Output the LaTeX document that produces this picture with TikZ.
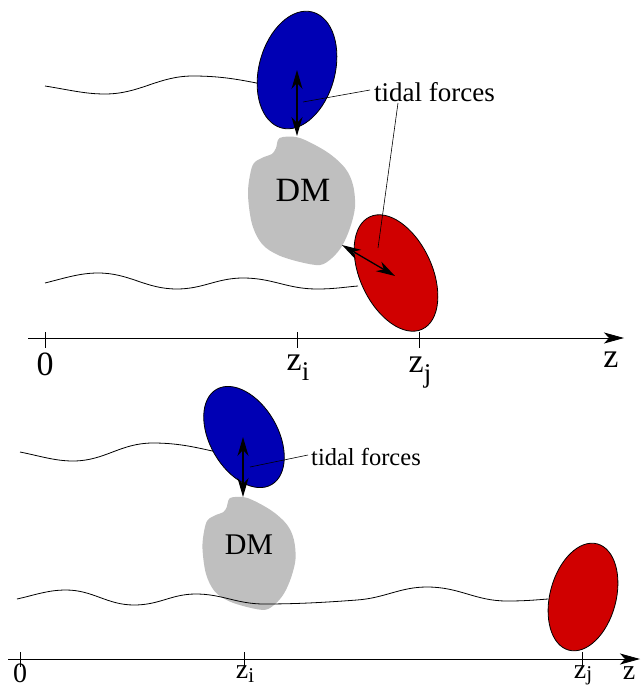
\documentclass[tikz,border=0pt]{standalone}
\usepackage{fontspec}
\setmainfont{Liberation Serif}
\usetikzlibrary{arrows.meta,shapes.geometric}
\definecolor{galblue}{RGB}{0,0,180}
\definecolor{galred}{RGB}{208,0,0}
\definecolor{dmgray}{RGB}{191,191,191}
\tikzset{
  galaxy/.style={ellipse, draw=black, line width=0.8pt, inner sep=0pt},
  wave/.style={line width=0.8pt},
  lead/.style={line width=0.6pt},
  dbl/.style={{Stealth[length=19pt,width=11pt,inset=6pt]}-{Stealth[length=19pt,width=11pt,inset=6pt]}, line width=1.3pt},
  axis/.style={line width=0.8pt, -{Stealth[length=20pt,width=11pt,inset=5pt]}},
  tick/.style={line width=0.8pt},
  lab/.style={inner sep=0pt, anchor=base},
  dmblob/.pic={\fill[dmgray] plot[smooth cycle, tension=0.55] coordinates{
    (-18.5,-64) (-1.5,-63) (25.5,-49) (43.5,-33) (51.5,-16) (53.5,6) (48.5,27)
    (40.5,45) (30.5,57) (18.5,64) (-1.5,61) (-23.5,54) (-39.5,43) (-49.5,23)
    (-53.5,-6) (-51.5,-26) (-47.5,-38) (-37.5,-44) (-29.5,-47) (-25.5,-53) (-23.5,-61)};}
}
\newcommand\zsub[3]{z\raisebox{#3}{\fontsize{#2}{#2}\selectfont #1}}
\begin{document}
\begin{tikzpicture}[x=1pt,y=-1pt]
\useasboundingbox (0,0) rectangle (640,687);
% ---------- top panel ----------
\pic at (301.5,201) {dmblob};
\node[font=\fontsize{34}{40}\selectfont] (dmA) at (303,190) {DM};
\draw[wave] (45,86) .. controls (70,90) and (85,94) .. (105,94)
  .. controls (140,94) and (158,76) .. (193,76)
  .. controls (225,76) and (245,81) .. (262,84);
\draw[wave] (45,283) .. controls (65,278) and (80,273) .. (98,273)
  .. controls (130,273) and (145,289) .. (177,289)
  .. controls (203,289) and (217,278) .. (243,278)
  .. controls (273,278) and (287,289) .. (317,289)
  .. controls (335,289) and (345,287) .. (358,286);
\node[galaxy, fill=galblue, minimum width=76pt, minimum height=120pt, rotate=-15] (blueA) at (297,70) {};
\node[galaxy, fill=galred, minimum width=72pt, minimum height=124pt, rotate=25] (redA) at (396,273) {};
\coordinate (bA1) at (297,70);
\coordinate (bA2) at (297,136);
\draw[dbl] (bA1) -- (bA2);
\coordinate (rA1) at (342,245);
\coordinate (rA2) at (395,276);
\draw[dbl] (rA1) -- (rA2);
\node[font=\fontsize{27}{32}\selectfont, inner sep=0pt] (tfA) at (434.5,92) {tidal forces};
\coordinate (lA1) at (303,102);
\coordinate (lA2) at (370,90);
\draw[lead] (lA1) -- (lA2);
\coordinate (lA3) at (398,103);
\coordinate (lA4) at (378,248);
\draw[lead] (lA3) -- (lA4);
% axis top
\coordinate (axA0) at (28,338);
\coordinate (axA1) at (624,338);
\draw[axis] (axA0) -- (axA1);
\foreach \xx/\nm in {45/tA0,297/tAi,419/tAj}{
  \coordinate (\nm a) at (\xx,332); \coordinate (\nm b) at (\xx,348);
  \draw[tick] (\nm a) -- (\nm b);}
\node[font=\fontsize{34}{40}\selectfont, lab] (lab0A) at (45,375) {0};
\node[font=\fontsize{34}{40}\selectfont, lab] (labiA) at (298,370) {\zsub{i}{27}{-0.32em}};
\node[font=\fontsize{34}{40}\selectfont, lab] (labjA) at (420,372) {\zsub{j}{27}{-0.32em}};
\node[font=\fontsize{34}{40}\selectfont, lab] (labzA) at (611,367) {z};
% ---------- bottom panel ----------
\pic[xscale=0.87, yscale=0.88] at (249,553.5) {dmblob};
\node[font=\fontsize{30}{36}\selectfont] (dmB) at (249,545) {DM};
\draw[wave] (20,452) .. controls (40,456) and (55,461) .. (73,461)
  .. controls (105,461) and (120,443) .. (153,443)
  .. controls (180,443) and (198,448) .. (217,452);
\draw[wave] (17,599) .. controls (35,595) and (48,590) .. (66,590)
  .. controls (93,590) and (107,605) .. (134,605)
  .. controls (160,605) and (171,594) .. (196,594)
  .. controls (222,594) and (237,604) .. (264,604)
  .. controls (300,604) and (330,602) .. (357,600)
  .. controls (385,598) and (400,587) .. (427,587)
  .. controls (460,587) and (475,601) .. (507,601)
  .. controls (525,601) and (535,600) .. (548,599);
\node[galaxy, fill=galblue, minimum width=68pt, minimum height=110pt, rotate=30] (blueB) at (244,437) {};
\node[galaxy, fill=galred, minimum width=66pt, minimum height=110pt, rotate=-15] (redB) at (583,597) {};
\coordinate (bB1) at (243,437);
\coordinate (bB2) at (243,497);
\draw[dbl] (bB1) -- (bB2);
\node[font=\fontsize{24.5}{30}\selectfont, inner sep=0pt] (tfB) at (366,457) {tidal forces};
\coordinate (lB1) at (250,467);
\coordinate (lB2) at (308,455);
\draw[lead] (lB1) -- (lB2);
% axis bottom
\coordinate (axB0) at (8,659);
\coordinate (axB1) at (640,659);
\draw[axis] (axB0) -- (axB1);
\foreach \xx/\nm in {20/tB0,244/tBi,582/tBj}{
  \coordinate (\nm a) at (\xx,652); \coordinate (\nm b) at (\xx,667);
  \draw[tick] (\nm a) -- (\nm b);}
\node[font=\fontsize{28}{34}\selectfont, lab] (lab0B) at (20,682) {0};
\node[font=\fontsize{28}{34}\selectfont, lab] (labiB) at (245,678) {\zsub{i}{21}{-0.15em}};
\node[font=\fontsize{28}{34}\selectfont, lab] (labjB) at (583,678) {\zsub{j}{21}{-0.1em}};
\node[font=\fontsize{28}{34}\selectfont, lab] (labzB) at (629,679) {z};
\end{tikzpicture}
\end{document}
